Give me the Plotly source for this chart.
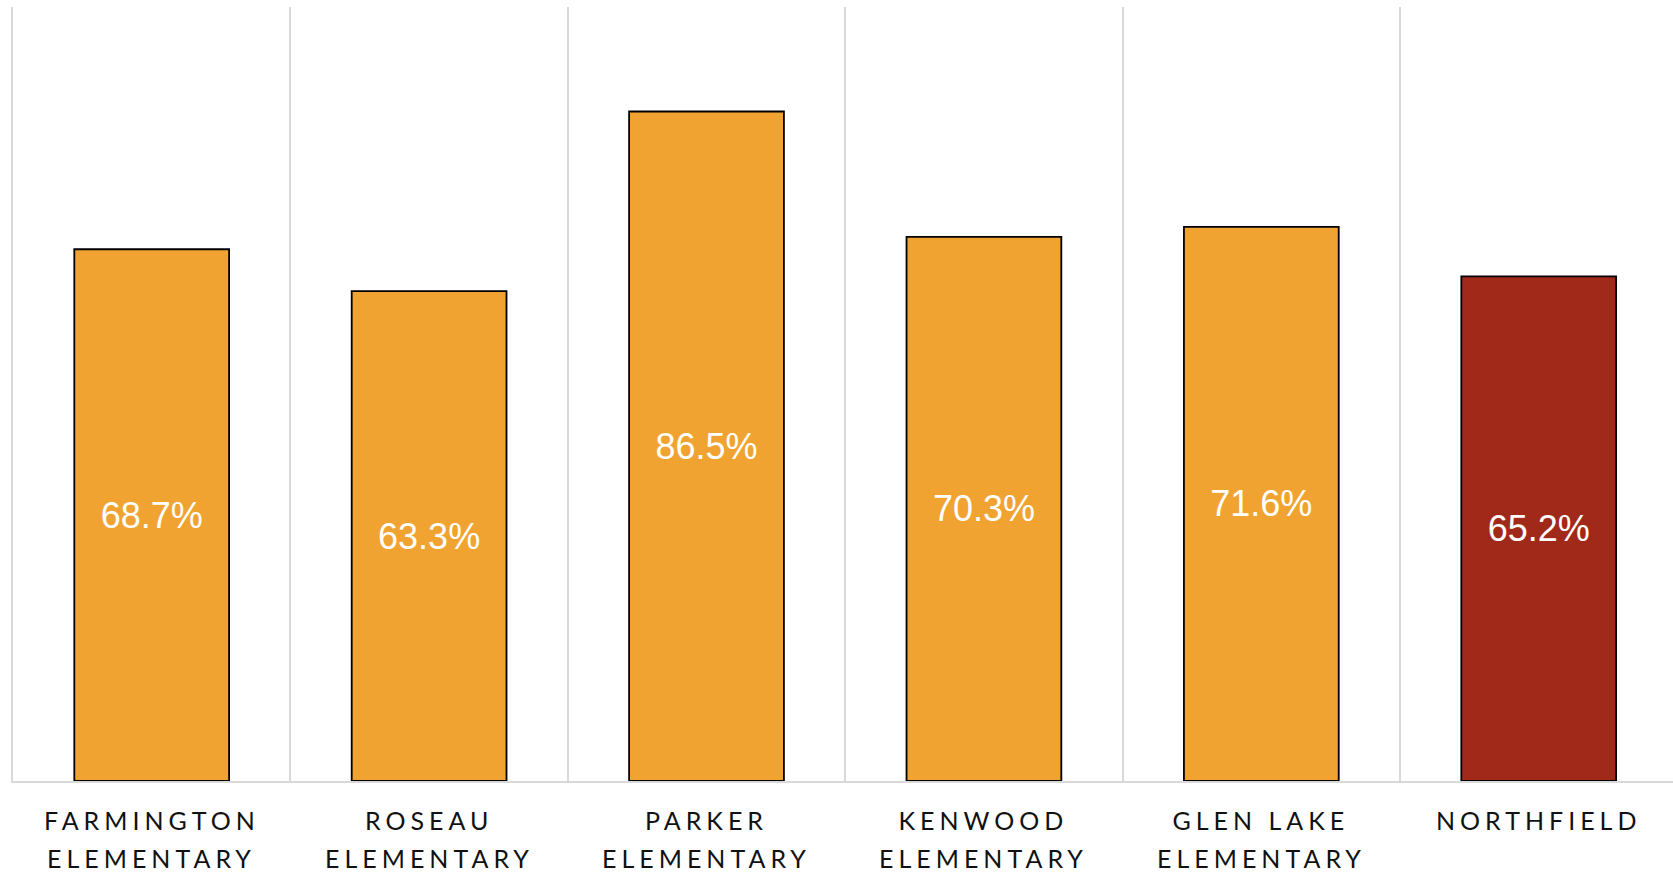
import plotly.graph_objects as go

categories = ["Farmington Elementary", "Roseau Elementary", "Parker Elementary",
              "Kenwood Elementary", "Glen Lake Elementary", "Northfield"]
label_line1 = ["FARMINGTON", "ROSEAU", "PARKER", "KENWOOD", "GLEN LAKE", "NORTHFIELD"]
label_line2 = ["ELEMENTARY", "ELEMENTARY", "ELEMENTARY", "ELEMENTARY", "ELEMENTARY", ""]
values = [68.7, 63.3, 86.5, 70.3, 71.6, 65.2]
bar_colors = ["#F0A330", "#F0A330", "#F0A330", "#F0A330", "#F0A330", "#A0291A"]

fig = go.Figure()
fig.add_trace(go.Bar(
    x=categories,
    y=values,
    marker=dict(color=bar_colors, line=dict(color="#000000", width=1.8)),
    texttemplate="%{y:.1f}%",
    textposition="inside",
    insidetextanchor="middle",
    textangle=0,
    textfont=dict(family="Liberation Sans, Arial, sans-serif", size=36, color="#FFFFFF"),
    constraintext="none",
    hoverinfo="skip",
))

annotations = []
for cat, l1, l2 in zip(categories, label_line1, label_line2):
    annotations.append(dict(x=cat, y=0, xref="x", yref="paper", text=l1, showarrow=False,
                            yanchor="middle", yshift=-39,
                            font=dict(family="Lato, Open Sans, sans-serif", size=25, color="#111111")))
    if l2:
        annotations.append(dict(x=cat, y=0, xref="x", yref="paper", text=l2, showarrow=False,
                                yanchor="middle", yshift=-77,
                                font=dict(family="Lato, Open Sans, sans-serif", size=25, color="#111111")))

fig.update_layout(
    width=1673, height=873,
    margin=dict(l=13, r=0, t=7, b=92),
    paper_bgcolor="#FFFFFF", plot_bgcolor="#FFFFFF",
    bargap=0.442,
    showlegend=False,
    annotations=annotations,
    xaxis=dict(
        type="category",
        range=[-0.5, 5.484],
        tickson="boundaries",
        showgrid=True, gridcolor="#D9D9D9", gridwidth=1.5,
        showticklabels=False, ticks="",
        showline=True, linecolor="#D9D9D9", linewidth=2,
        zeroline=False,
    ),
    yaxis=dict(
        range=[0, 100],
        showgrid=False, showticklabels=False, ticks="",
        zeroline=False,
        showline=True, linecolor="#D9D9D9", linewidth=1.5,
    ),
)

post = """
document.body.style.margin = '0';
document.body.style.overflow = 'hidden';
document.querySelectorAll('.annotation-text').forEach(function(t){
  t.style.letterSpacing = '5px';
});
"""
fig.write_html("out.html", post_script=post, config={"displayModeBar": False})
